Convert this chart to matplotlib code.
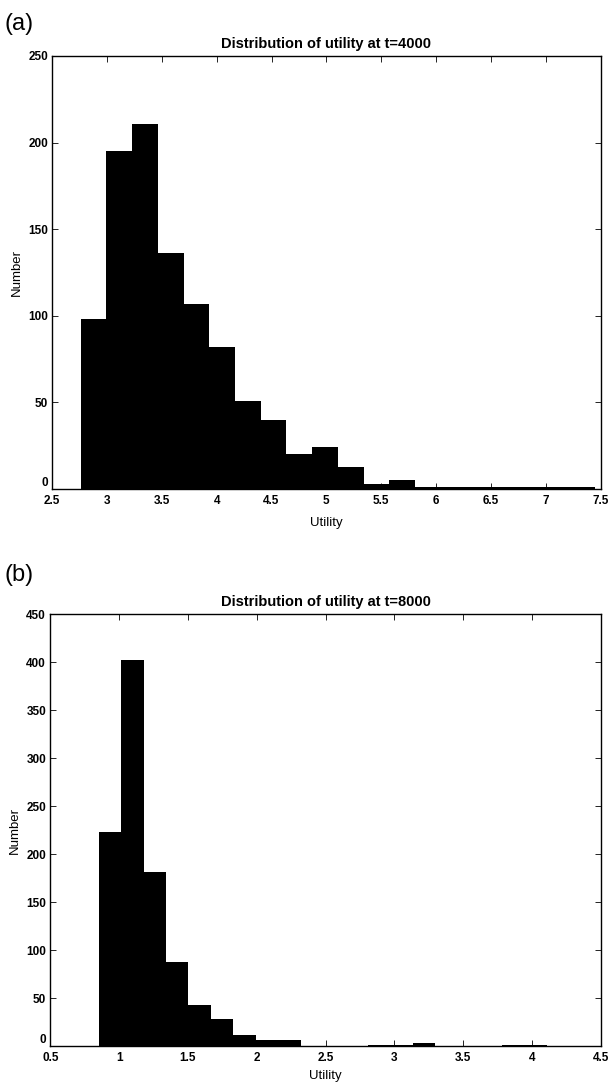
import numpy as np
import matplotlib
matplotlib.use("Agg")
import matplotlib.pyplot as plt

plt.rcParams["font.family"] = ["Liberation Sans", "DejaVu Sans"]

# histogram counts (20 equal bins between the smallest and largest utility)
counts_t4000 = [98, 195, 211, 136, 107, 82, 51, 40, 20, 24,
                13, 3, 5, 1, 1, 1, 1, 1, 1, 1]
util_range_t4000 = (2.76, 7.45)

counts_t8000 = [223, 402, 181, 88, 43, 28, 12, 6, 6, 0,
                0, 0, 1, 1, 3, 0, 0, 0, 1, 1]
util_range_t8000 = (0.852, 4.112)

panels = [
    dict(tag="(a)", title="Distribution of utility at t=4000",
         counts=counts_t4000, urange=util_range_t4000,
         xlim=(2.5, 7.5), xticks=[2.5, 3, 3.5, 4, 4.5, 5, 5.5, 6, 6.5, 7, 7.5],
         ylim=(0, 250), yticks=[0, 50, 100, 150, 200, 250]),
    dict(tag="(b)", title="Distribution of utility at t=8000",
         counts=counts_t8000, urange=util_range_t8000,
         xlim=(0.5, 4.5), xticks=[0.5, 1, 1.5, 2, 2.5, 3, 3.5, 4, 4.5],
         ylim=(0, 450), yticks=[0, 50, 100, 150, 200, 250, 300, 350, 400, 450]),
]

fig = plt.figure(figsize=(6.13, 10.87), dpi=100)
rects = [[0.085, 0.5501, 0.895, 0.3984], [0.082, 0.0377, 0.898, 0.3974]]
tag_y = [0.978, 0.471]
xlabel_pad = [7, 4]

for p, rect, ty, lp in zip(panels, rects, tag_y, xlabel_pad):
    ax = fig.add_axes(rect)
    edges = np.linspace(p["urange"][0], p["urange"][1], len(p["counts"]) + 1)
    ax.stairs(p["counts"], edges, fill=True, color="black", linewidth=0)
    ax.set_xlim(*p["xlim"])
    ax.set_ylim(*p["ylim"])
    ax.set_xticks(p["xticks"])
    ax.set_xticklabels([f"{v:g}" for v in p["xticks"]])
    ax.set_yticks(p["yticks"])
    ax.tick_params(direction="in", length=4, width=0.6, top=True, right=True,
                   labelsize=8.5)
    ax.tick_params(axis="x", pad=4.5)
    ax.tick_params(axis="y", pad=3)
    for lab in ax.get_xticklabels() + ax.get_yticklabels():
        lab.set_fontweight("bold")
    # the zero label sits a bit higher so it clears the first x label
    ax.get_yticklabels()[0].set_va("bottom")
    for s in ax.spines.values():
        s.set_linewidth(1.0)
    ax.set_title(p["title"], fontsize=10.5, fontweight="bold", pad=6)
    ax.set_xlabel("Utility", fontsize=9.5, labelpad=lp)
    ax.set_ylabel("Number", fontsize=9.5, labelpad=4)
    fig.text(0.008, ty, p["tag"], fontsize=17, va="center", ha="left")

fig.savefig("out.png", dpi=100)
